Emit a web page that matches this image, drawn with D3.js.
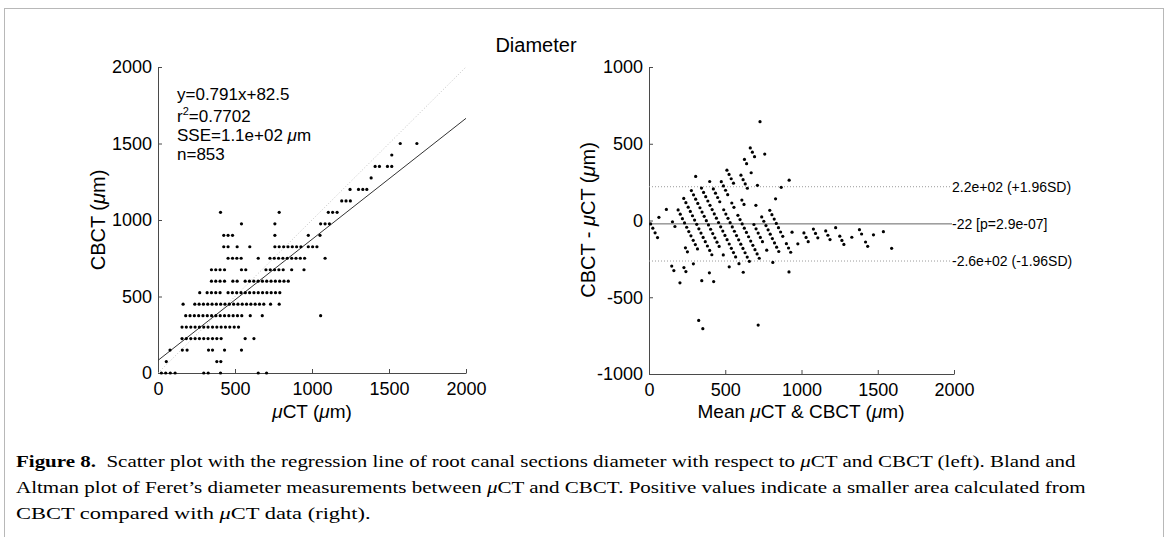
<!DOCTYPE html>
<html>
<head>
<meta charset="utf-8">
<script src="https://cdn.jsdelivr.net/npm/d3@7"></script>
<style>
  body { margin: 0; background: #fff; }
  svg { display: block; }
</style>
</head>
<body>
<div id="chart"></div>
<script>
// left panel: CBCT levels (um) and the uCT values (um) seen on each level
const cbctLevels = [0, 75, 150, 225, 300, 375, 450, 525, 600, 675, 750, 825, 900, 975, 1050, 1125, 1200, 1275, 1350, 1425, 1500]
const uctByLevel = [
    [22, 50, 80, 111, 297, 326, 406, 651, 705],
    [54, 382, 408],
    [78, 158, 189, 328, 354, 432, 542],
    [156, 184, 213, 241, 269, 297, 325, 354, 382, 410, 566, 623],
    [156, 184, 213, 241, 269, 297, 325, 354, 382, 410, 438, 466, 495, 523],
    [180, 208, 236, 264, 292, 320, 348, 376, 404, 432, 460, 488, 516, 544, 599, 677, 1056],
    [163, 239, 267, 295, 323, 351, 379, 407, 435, 463, 491, 519, 547, 575, 603, 631, 659, 687, 731, 787],
    [271, 319, 347, 375, 403, 455, 483, 511, 539, 567, 595, 623, 651, 679, 707, 735, 763, 791],
    [347, 375, 403, 432, 486, 514, 566, 594, 622, 650, 678, 706, 734, 762, 790, 818, 846],
    [347, 375, 403, 432, 542, 570, 701, 729, 757, 785, 813, 868, 948],
    [455, 484, 512, 540, 651, 727, 755, 783, 811, 839, 868, 896, 924, 952, 1085],
    [427, 455, 514, 596, 759, 787, 816, 844, 872, 900, 928, 976, 1004, 1032],
    [427, 455, 484, 759, 976, 1052],
    [542, 759, 1056, 1085, 1113],
    [406, 787, 1106, 1134, 1163],
    [1193, 1221, 1249],
    [1247, 1302, 1330, 1356],
    [1384],
    [1410, 1438, 1490, 1518],
    [1518],
    [1573, 1681]
]
const fitSlope = 0.791
const fitIntercept = 82.5
const fitLines = ['y=0.791x+82.5', 'r2=0.7702', 'SSE=1.1e+02 μm', 'n=853']

// right panel: Bland-Altman mean and difference (um)
const baMean = [
    11, 25, 40, 56, 149, 163, 203, 326, 353,
    65, 229, 242,
    114, 154, 170, 239, 252, 291, 346,
    191, 205, 219, 233, 247, 261, 275, 290, 304, 318, 396, 424,
    228, 242, 257, 271, 285, 299, 313, 327, 341, 355, 369, 383, 398, 412,
    278, 292, 306, 320, 334, 348, 362, 376, 390, 404, 418, 432, 446, 460, 487, 526, 716,
    306, 344, 358, 372, 386, 400, 414, 428, 442, 456, 470, 484, 498, 512, 526, 540, 554, 568, 590, 618,
    398, 422, 436, 450, 464, 490, 504, 518, 532, 546, 560, 574, 588, 602, 616, 630, 644, 658,
    474, 488, 502, 516, 543, 557, 583, 597, 611, 625, 639, 653, 667, 681, 695, 709, 723,
    511, 525, 539, 554, 609, 623, 688, 702, 716, 730, 744, 772, 812,
    603, 617, 631, 645, 701, 739, 753, 767, 781, 795, 809, 823, 837, 851, 918,
    626, 640, 670, 711, 792, 806, 821, 835, 849, 863, 877, 901, 915, 929,
    664, 678, 692, 830, 938, 976,
    759, 867, 1016, 1030, 1044,
    728, 919, 1078, 1092, 1107,
    1159, 1173, 1187,
    1224, 1251, 1265, 1278,
    1330,
    1380, 1394, 1420, 1434,
    1472,
    1537, 1591
]
const baDiff = [
    -22, -50, -80, -111, -297, -326, -406, -651, -705,
    21, -307, -333,
    72, -8, -39, -178, -204, -282, -392,
    69, 41, 12, -16, -44, -72, -100, -129, -157, -185, -341, -398,
    144, 116, 87, 59, 31, 3, -25, -54, -82, -110, -138, -166, -195, -223,
    195, 167, 139, 111, 83, 55, 27, -1, -29, -57, -85, -113, -141, -169, -224, -302, -681,
    287, 211, 183, 155, 127, 99, 71, 43, 15, -13, -41, -69, -97, -125, -153, -181, -209, -237, -281, -337,
    254, 206, 178, 150, 122, 70, 42, 14, -14, -42, -70, -98, -126, -154, -182, -210, -238, -266,
    253, 225, 197, 168, 114, 86, 34, 6, -22, -50, -78, -106, -134, -162, -190, -218, -246,
    328, 300, 272, 243, 133, 105, -26, -54, -82, -110, -138, -193, -273,
    295, 266, 238, 210, 99, 23, -5, -33, -61, -89, -118, -146, -174, -202, -335,
    398, 370, 311, 229, 66, 38, 9, -19, -47, -75, -103, -151, -179, -207,
    473, 445, 416, 141, -76, -152,
    433, 216, -81, -110, -138,
    644, 263, -56, -84, -113,
    -68, -96, -124,
    -47, -102, -130, -156,
    -109,
    -60, -88, -140, -168,
    -93,
    -73, -181
]
const baLevels = [220, -22, -264]
const baLabels = ['2.2e+02 (+1.96SD)', '-22 [p=2.9e-07]', '-2.6e+02 (-1.96SD)']

const leftTicks = [0, 500, 1000, 1500, 2000]
const rightXTicks = [0, 500, 1000, 1500, 2000]
const rightYTicks = [-1000, -500, 0, 500, 1000]

const captionLines = [
    [['Figure 8.', 'b'], ['\u00a0\u00a0Scatter plot with the regression line of root canal sections diameter with respect to ', ''], ['μ', 'i'], ['CT and CBCT (left). Bland and', '']],
    [['Altman plot of Feret’s diameter measurements between ', ''], ['μ', 'i'], ['CT and CBCT. Positive values indicate a smaller area calculated from', '']],
    [['CBCT compared with ', ''], ['μ', 'i'], ['CT data (right).', '']]
]
const captionEnds = [1077, 1086, 371]

const width = 1170
const height = 537
const axisColor = '#4a4a4a'

const svg = d3.select('#chart')
    .append('svg')
    .attr('width', width)
    .attr('height', height)
    .style('font-family', '"Liberation Sans", Arial, Helvetica, sans-serif')

// frame round the figure
svg.append('rect')
    .attr('x', 4.5).attr('y', 8.5)
    .attr('width', 1159).attr('height', 560)
    .attr('fill', 'none')
    .attr('stroke', '#b8b8b8')

svg.append('text')
    .attr('x', 536).attr('y', 52)
    .attr('text-anchor', 'middle')
    .attr('font-size', 20)
    .text('Diameter')

// draws the two axis lines with inward ticks, matlab style
const drawAxes = (x, y, xTicks, yTicks) => {
    const gx = svg.append('g')
        .attr('transform', `translate(0,${y.range()[0]})`)
        .call(d3.axisBottom(x).tickValues(xTicks)
            .tickFormat(d => String(d)).tickSizeInner(-4).tickSizeOuter(0).tickPadding(9))
    const gy = svg.append('g')
        .attr('transform', `translate(${x.range()[0]},0)`)
        .call(d3.axisLeft(y).tickValues(yTicks)
            .tickFormat(d => String(d)).tickSizeInner(-4).tickSizeOuter(0).tickPadding(6))
    ;[gx, gy].forEach(g => {
        g.attr('font-size', 18).attr('font-family', null)
        g.select('.domain').attr('stroke', axisColor)
        g.selectAll('.tick line').attr('stroke', axisColor)
        g.selectAll('.tick text').attr('fill', '#000')
    })
}

// writes a string into a text element with every "μ" in italics
const muText = (sel, str) => {
    str.split('μ').forEach((part, i) => {
        if (i > 0) sel.append('tspan').attr('font-style', 'italic').text('μ')
        if (part) sel.append('tspan').text(part)
    })
    return sel
}

// ---------- left panel ----------
const xL = d3.scaleLinear().domain([0, 2000]).range([158, 466])
const yL = d3.scaleLinear().domain([0, 2000]).range([373, 67])
drawAxes(xL, yL, leftTicks, leftTicks)

svg.append('line')
    .attr('x1', xL(0)).attr('y1', yL(0))
    .attr('x2', xL(2000)).attr('y2', yL(2000))
    .attr('stroke', '#c4c4c4')
    .attr('stroke-dasharray', '1,2')

svg.append('line')
    .attr('x1', xL(0)).attr('y1', yL(fitIntercept))
    .attr('x2', xL(2000)).attr('y2', yL(fitSlope * 2000 + fitIntercept))
    .attr('stroke', '#333')

const leftPoints = cbctLevels.flatMap((b, i) => uctByLevel[i].map(u => ({ u, b })))
svg.append('g').selectAll('circle')
    .data(leftPoints)
    .enter()
    .append('circle')
    .attr('cx', d => xL(d.u))
    .attr('cy', d => yL(d.b))
    .attr('r', 1.6)
    .attr('fill', '#000')

const fitBase = [100, 122, 141, 160]
fitLines.forEach((line, i) => {
    const t = svg.append('text').attr('x', 177).attr('y', fitBase[i]).attr('font-size', 17)
    if (line.startsWith('r2')) {
        t.append('tspan').text('r')
        t.append('tspan').attr('font-size', 11).attr('dy', -7).text('2')
        t.append('tspan').attr('dy', 7).text(line.slice(2))
    } else muText(t, line)
})

muText(svg.append('text')
    .attr('transform', 'translate(105,220) rotate(-90)')
    .attr('text-anchor', 'middle')
    .attr('font-size', 20), 'CBCT (μm)')

muText(svg.append('text')
    .attr('x', 312).attr('y', 418)
    .attr('text-anchor', 'middle')
    .attr('font-size', 19), 'μCT (μm)')

// ---------- right panel ----------
const xR = d3.scaleLinear().domain([0, 2000]).range([649, 954])
const yR = d3.scaleLinear().domain([-1000, 1000]).range([374, 67])
drawAxes(xR, yR, rightXTicks, rightYTicks)

baLevels.forEach((v, i) => {
    svg.append('line')
        .attr('x1', xR(0)).attr('y1', yR(v))
        .attr('x2', xR(2000) - 2).attr('y2', yR(v))
        .attr('stroke', i === 1 ? '#666' : '#9a9a9a')
        .attr('stroke-dasharray', i === 1 ? null : '1,2')
    svg.append('text')
        .attr('x', xR(2000) - 2).attr('y', yR(v))
        .attr('dy', '0.36em')
        .attr('font-size', 14)
        .text(baLabels[i])
})

svg.append('g').selectAll('circle')
    .data(baMean.map((m, i) => ({ m, d: baDiff[i] })))
    .enter()
    .append('circle')
    .attr('cx', d => xR(d.m))
    .attr('cy', d => yR(d.d))
    .attr('r', 1.6)
    .attr('fill', '#000')

muText(svg.append('text')
    .attr('transform', 'translate(595,220) rotate(-90)')
    .attr('text-anchor', 'middle')
    .attr('font-size', 20), 'CBCT - μCT (μm)')

muText(svg.append('text')
    .attr('x', 801).attr('y', 418)
    .attr('text-anchor', 'middle')
    .attr('font-size', 19), 'Mean μCT & CBCT (μm)')

// ---------- caption ----------
const capBase = [467, 493, 519]
captionLines.forEach((parts, i) => {
    const g = svg.append('g')
    const t = g.append('text')
        .attr('font-size', 17)
        .attr('font-family', '"Liberation Serif", "Times New Roman", serif')
        .style('white-space', 'pre')
    parts.forEach(([s, f]) => {
        const sp = t.append('tspan').text(s)
        if (f === 'b') sp.attr('font-weight', 'bold')
        if (f === 'i') sp.attr('font-style', 'italic')
    })
    // squeeze each line to the width it has in the figure
    const w = t.node().getBBox().width
    g.attr('transform', `translate(16,${capBase[i]}) scale(${(captionEnds[i] - 16) / w},1)`)
})
</script>
</body>
</html>
